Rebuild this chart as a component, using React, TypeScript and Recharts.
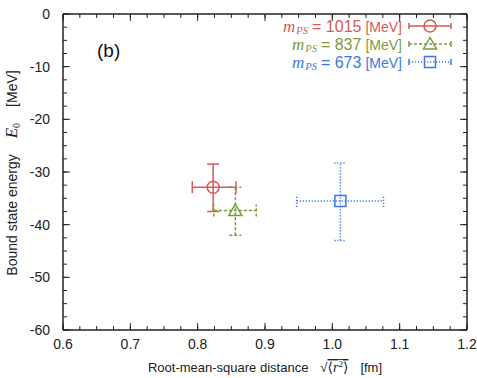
import { ScatterChart, Scatter, XAxis, YAxis, ErrorBar } from "recharts";

// pion mass [MeV], rms distance [fm], bound state energy [MeV]
const MASSES = [1015, 837, 673];
const RADIUS = [0.823, 0.856, 1.012];
const RADIUS_ERR = [[0.031, 0.034], [0.032, 0.031], [0.065, 0.064]];
const ENERGY = [-32.9, -37.3, -35.5];
const ENERGY_ERR = [[4.6, 4.4], [4.7, 4.4], [7.5, 7.2]];
const COLORS = ["#d65a55", "#7b9b3b", "#3b78dd"];
const DASHES = [undefined, "3 2", "1.2 1.8"];
const MARKERS = ["circle", "triangle", "square"];

const X_TICKS = [0.6, 0.7, 0.8, 0.9, 1.0, 1.1, 1.2];
const Y_TICKS = [0, -10, -20, -30, -40, -50, -60];
const X_MINOR = Array.from({ length: 25 }, (_, i) => 0.6 + i * 0.025);
const Y_MINOR = Array.from({ length: 25 }, (_, i) => -i * 2.5);

const series = MASSES.map((m, i) => ({
  mass: m,
  color: COLORS[i],
  dash: DASHES[i],
  marker: MARKERS[i],
  data: [{ r: RADIUS[i], e: ENERGY[i], ex: RADIUS_ERR[i], ey: ENERGY_ERR[i] }],
}));

const W = 477, H = 378;
const FONT = '"Liberation Sans", Arial, Helvetica, sans-serif';
const SERIF = '"Liberation Serif", "DejaVu Serif", serif';
const AX = "#222";
const THIN = 0.001; // mirrored tick-only axes take no room

function Marker({ cx, cy, kind, color }: any) {
  const p = { fill: "none", stroke: color, strokeWidth: 1.5 };
  if (kind === "circle") return <circle cx={cx} cy={cy} r={6} {...p} />;
  if (kind === "triangle")
    return <polygon points={`${cx},${cy - 6.5} ${cx - 6.5},${cy + 5} ${cx + 6.5},${cy + 5}`} {...p} />;
  return <rect x={cx - 5.5} y={cy - 5.5} width={11} height={11} {...p} />;
}

function XLabel({ viewBox }: any) {
  const cx = viewBox.x + viewBox.width / 2;
  return (
    <text x={cx} y={viewBox.y + 42} textAnchor="middle" fontFamily={FONT} fontSize={13} fill={AX}>
      <tspan>Root-mean-square distance</tspan>
      <tspan dx={12}>√</tspan>
      <tspan fontFamily={SERIF} fontSize={14} textDecoration="overline">
        ⟨<tspan fontStyle="italic">r</tspan>
        <tspan fontSize={9} dy={-5}>2</tspan>
        <tspan dy={5}>⟩</tspan>
      </tspan>
      <tspan dx={12}>[fm]</tspan>
    </text>
  );
}

function YLabel({ viewBox }: any) {
  const x = 17;
  const y = viewBox.y + viewBox.height / 2 + 1;
  return (
    <text x={x} y={y} transform={`rotate(-90 ${x} ${y})`} textAnchor="middle" fontFamily={FONT} fontSize={14} fill={AX}>
      <tspan>Bound state energy</tspan>
      <tspan dx={16} fontFamily={SERIF} fontStyle="italic" fontSize={17}>E</tspan>
      <tspan fontFamily={SERIF} fontSize={10} dy={3}>0</tspan>
      <tspan dx={16} dy={-3}>[MeV]</tspan>
    </text>
  );
}

function Legend() {
  const rows = [26, 44, 62];
  return (
    <svg width={W} height={H} style={{ position: "absolute", left: 0, top: 0, pointerEvents: "none" }}>
      <text x={97} y={57} fontFamily={FONT} fontSize={19} fill="#111">(b)</text>
      {series.map((s, i) => {
        const y = rows[i];
        return (
          <g key={s.mass}>
            <text x={402} y={y + 5.5} textAnchor="end" fill={s.color} fontFamily={FONT} fontSize={16}>
              <tspan fontFamily={SERIF} fontStyle="italic" fontSize={17}>m</tspan>
              <tspan fontFamily={SERIF} fontStyle="italic" fontSize={10.5} dx={1} dy={2}>PS</tspan>
              <tspan dx={4} dy={-2}>= {s.mass}</tspan>
              <tspan dx={4} fontSize={14}>[MeV]</tspan>
            </text>
            <line x1={409} x2={451} y1={y} y2={y} stroke={s.color} strokeWidth={1.5} strokeDasharray={s.dash} />
            <line x1={409} x2={409} y1={y - 3} y2={y + 3} stroke={s.color} strokeWidth={1.5} />
            <line x1={451} x2={451} y1={y - 3} y2={y + 3} stroke={s.color} strokeWidth={1.5} />
            <Marker cx={430} cy={y} kind={s.marker} color={s.color} />
          </g>
        );
      })}
    </svg>
  );
}

const noLabel = () => <g />;

export default function App() {
  const tickLine = { stroke: AX, strokeWidth: 1 };
  const frame = { stroke: AX, strokeWidth: 1.5 };
  return (
    <div style={{ position: "absolute", left: 0, top: 0, width: W, height: H, background: "#fff" }}>
      <ScatterChart width={W} height={H} margin={{ top: 14, right: 10, bottom: 0, left: 0 }}>
        <XAxis
          xAxisId="b" type="number" dataKey="r" domain={[0.6, 1.2]} ticks={X_TICKS} interval={0}
          tickFormatter={(v: number) => v.toFixed(1)} tickLine={false} tickSize={6} tickMargin={3}
          height={48} axisLine={frame}
          tick={{ fontSize: 14, fill: AX, fontFamily: FONT }} label={<XLabel />} allowDataOverflow
        />
        <XAxis xAxisId="bM" type="number" dataKey="r" domain={[0.6, 1.2]} ticks={X_TICKS} interval={0} mirror height={THIN} orientation="bottom" tick={noLabel} tickSize={7} axisLine={false} tickLine={tickLine} allowDataOverflow />
        <XAxis xAxisId="bm" type="number" dataKey="r" domain={[0.6, 1.2]} ticks={X_MINOR} interval={0} mirror height={THIN} orientation="bottom" tick={noLabel} tickSize={4} axisLine={false} tickLine={tickLine} allowDataOverflow />
        <XAxis xAxisId="tM" type="number" dataKey="r" domain={[0.6, 1.2]} ticks={X_TICKS} interval={0} mirror height={THIN} orientation="top" tick={noLabel} tickSize={7} axisLine={frame} tickLine={tickLine} allowDataOverflow />
        <XAxis xAxisId="tm" type="number" dataKey="r" domain={[0.6, 1.2]} ticks={X_MINOR} interval={0} mirror height={THIN} orientation="top" tick={noLabel} tickSize={4} axisLine={false} tickLine={tickLine} allowDataOverflow />

        <YAxis
          yAxisId="l" type="number" dataKey="e" domain={[-60, 0]} ticks={Y_TICKS} interval={0}
          tickLine={false} tickSize={6} tickMargin={7} width={63}
          axisLine={frame}
          tick={{ fontSize: 14, fill: AX, fontFamily: FONT }} label={<YLabel />} allowDataOverflow
        />
        <YAxis yAxisId="lM" type="number" dataKey="e" domain={[-60, 0]} ticks={Y_TICKS} interval={0} mirror width={THIN} orientation="left" tick={noLabel} tickSize={7} axisLine={false} tickLine={tickLine} allowDataOverflow />
        <YAxis yAxisId="lm" type="number" dataKey="e" domain={[-60, 0]} ticks={Y_MINOR} interval={0} mirror width={THIN} orientation="left" tick={noLabel} tickSize={4} axisLine={false} tickLine={tickLine} allowDataOverflow />
        <YAxis yAxisId="rM" type="number" dataKey="e" domain={[-60, 0]} ticks={Y_TICKS} interval={0} mirror width={THIN} orientation="right" tick={noLabel} tickSize={7} axisLine={frame} tickLine={tickLine} allowDataOverflow />
        <YAxis yAxisId="rm" type="number" dataKey="e" domain={[-60, 0]} ticks={Y_MINOR} interval={0} mirror width={THIN} orientation="right" tick={noLabel} tickSize={4} axisLine={false} tickLine={tickLine} allowDataOverflow />

        {series.map((s) => (
          <Scatter
            key={s.mass}
            xAxisId="b"
            yAxisId="l"
            data={s.data}
            isAnimationActive={false}
            shape={(p: any) => <Marker cx={p.cx} cy={p.cy} kind={s.marker} color={s.color} />}
          >
            <ErrorBar dataKey="ex" direction="x" width={6} stroke={s.color} strokeWidth={1.5} strokeDasharray={s.dash} isAnimationActive={false} />
            <ErrorBar dataKey="ey" direction="y" width={6} stroke={s.color} strokeWidth={1.5} strokeDasharray={s.dash} isAnimationActive={false} />
          </Scatter>
        ))}
      </ScatterChart>
      <Legend />
    </div>
  );
}
